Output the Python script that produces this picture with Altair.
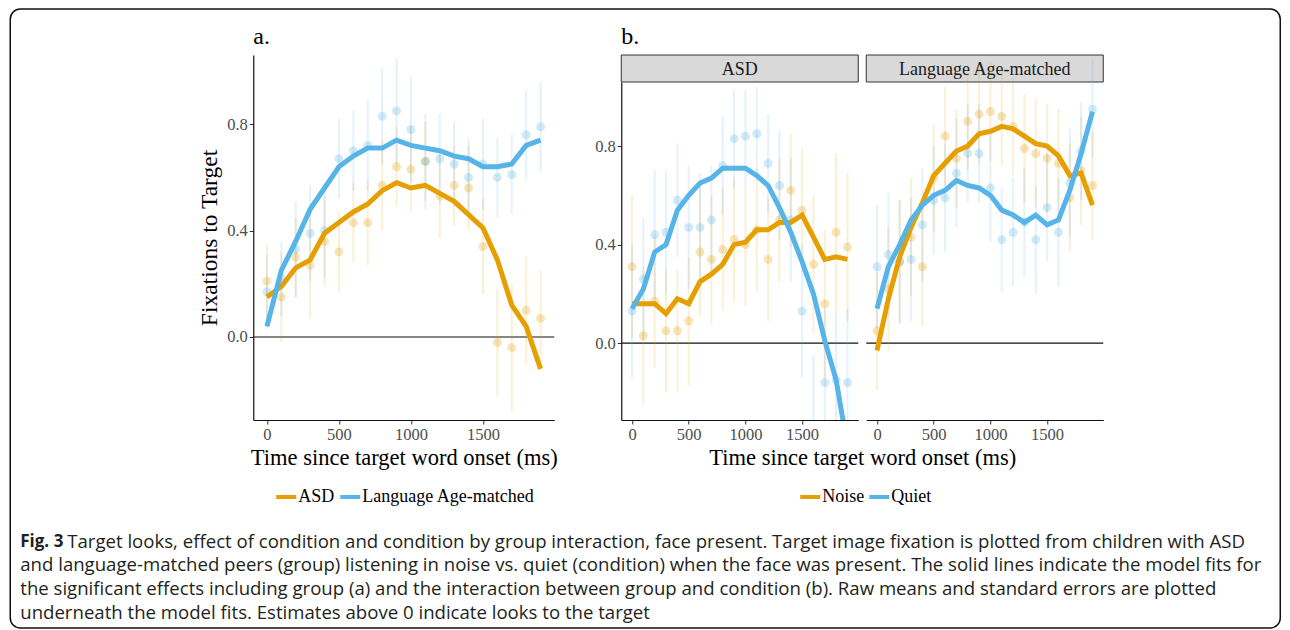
import altair as alt
import pandas as pd

SERIF = "Liberation Serif"
SANS = "Open Sans"
ORANGE = "#E69F00"
BLUE = "#56B4E9"

# ---------------- data ----------------
times = [0, 100, 200, 300, 400, 500, 600, 700, 800, 900,
         1000, 1100, 1200, 1300, 1400, 1500, 1600, 1700, 1800, 1900]

# panel a: group effect
a_groups = ["ASD", "Language Age-matched"]
a_asd_mean = [0.21, 0.15, 0.30, 0.27, 0.36, 0.32, 0.43, 0.43, 0.57, 0.64,
              0.63, 0.66, 0.53, 0.57, 0.56, 0.34, -0.02, -0.04, 0.10, 0.07]
a_asd_se = [0.14, 0.17, 0.15, 0.20, 0.17, 0.15, 0.15, 0.16, 0.17, 0.15,
            0.16, 0.15, 0.16, 0.15, 0.16, 0.18, 0.20, 0.24, 0.20, 0.18]
a_asd_fit = [0.15, 0.19, 0.26, 0.29, 0.39, 0.43, 0.47, 0.50, 0.55, 0.58,
             0.56, 0.57, 0.54, 0.51, 0.46, 0.41, 0.29, 0.12, 0.04, -0.12]
a_lam_mean = [0.17, 0.22, 0.33, 0.39, 0.40, 0.67, 0.70, 0.72, 0.83, 0.85,
              0.78, 0.66, 0.67, 0.65, 0.60, 0.65, 0.60, 0.61, 0.76, 0.79]
a_lam_se = [0.14, 0.14, 0.18, 0.18, 0.18, 0.15, 0.15, 0.17, 0.18, 0.20,
            0.20, 0.18, 0.17, 0.16, 0.15, 0.17, 0.15, 0.15, 0.17, 0.17]
a_lam_fit = [0.04, 0.25, 0.36, 0.48, 0.56, 0.64, 0.68, 0.71, 0.71, 0.74,
             0.72, 0.71, 0.70, 0.68, 0.67, 0.64, 0.64, 0.65, 0.72, 0.74]

# panel b: condition by group
b_conditions = ["Noise", "Quiet"]
b_asd_noise_mean = [0.31, 0.03, 0.17, 0.05, 0.05, 0.09, 0.37, 0.34, 0.38, 0.42,
                    0.40, 0.46, 0.34, 0.50, 0.62, 0.54, 0.32, 0.16, 0.45, 0.39]
b_asd_noise_se = [0.29, 0.28, 0.27, 0.25, 0.25, 0.26, 0.26, 0.26, 0.25, 0.25,
                  0.25, 0.25, 0.25, 0.25, 0.23, 0.25, 0.28, 0.30, 0.32, 0.30]
b_asd_noise_fit = [0.16, 0.16, 0.16, 0.12, 0.18, 0.16, 0.25, 0.28, 0.32, 0.40,
                   0.41, 0.46, 0.46, 0.49, 0.49, 0.52, 0.43, 0.34, 0.35, 0.34]
b_asd_quiet_mean = [0.13, 0.26, 0.44, 0.45, 0.58, 0.47, 0.47, 0.50, 0.72, 0.83,
                    0.84, 0.85, 0.73, 0.64, 0.50, 0.13, -0.35, -0.16, -0.15, -0.16]
b_asd_quiet_se = [0.27, 0.25, 0.26, 0.25, 0.23, 0.25, 0.22, 0.22, 0.20, 0.20,
                  0.19, 0.19, 0.20, 0.22, 0.25, 0.27, 0.30, 0.30, 0.28, 0.30]
b_asd_quiet_fit = [0.14, 0.22, 0.37, 0.40, 0.54, 0.60, 0.65, 0.67, 0.71, 0.71,
                   0.71, 0.68, 0.64, 0.55, 0.45, 0.33, 0.20, 0.01, -0.15, -0.42]

b_lam_noise_mean = [0.05, 0.22, 0.33, 0.43, 0.31, 0.67, 0.84, 0.75, 0.90, 0.93,
                    0.94, 0.92, 0.88, 0.79, 0.77, 0.75, 0.73, 0.59, 0.70, 0.64]
b_lam_noise_se = [0.24, 0.25, 0.25, 0.24, 0.24, 0.22, 0.20, 0.20, 0.20, 0.20,
                  0.20, 0.20, 0.20, 0.22, 0.22, 0.22, 0.22, 0.22, 0.22, 0.22]
b_lam_noise_fit = [-0.03, 0.18, 0.35, 0.47, 0.57, 0.68, 0.73, 0.78, 0.80, 0.85,
                   0.86, 0.88, 0.87, 0.84, 0.81, 0.80, 0.76, 0.68, 0.69, 0.56]
b_lam_quiet_mean = [0.31, 0.36, 0.33, 0.34, 0.48, 0.58, 0.59, 0.69, 0.77, 0.77,
                    0.63, 0.42, 0.45, 0.49, 0.42, 0.55, 0.45, 0.65, 0.78, 0.95]
b_lam_quiet_se = [0.25, 0.25, 0.25, 0.25, 0.23, 0.22, 0.22, 0.22, 0.20, 0.20,
                  0.22, 0.21, 0.22, 0.22, 0.22, 0.22, 0.22, 0.22, 0.20, 0.20]
b_lam_quiet_fit = [0.14, 0.31, 0.40, 0.50, 0.56, 0.60, 0.62, 0.66, 0.64, 0.63,
                   0.60, 0.54, 0.52, 0.49, 0.52, 0.48, 0.50, 0.62, 0.77, 0.94]

x_ticks = [0, 500, 1000, 1500]
y_ticks = [0.0, 0.4, 0.8]

caption_bold = "Fig. 3"
caption_first = ("Target looks, effect of condition and condition by group interaction, "
                 "face present. Target image fixation is plotted from children with ASD")
caption_rest = [
    "and language-matched peers (group) listening in noise vs. quiet (condition) when the face was present. The solid lines indicate the model fits for",
    "the significant effects including group (a) and the interaction between group and condition (b). Raw means and standard errors are plotted",
    "underneath the model fits. Estimates above 0 indicate looks to the target",
]


def build(series_name, names, means, ses, fits):
    rows = []
    for name, m, s, f in zip(names, means, ses, fits):
        for t, mv, sv, fv in zip(times, m, s, f):
            rows.append({"time": t, series_name: name, "mean": mv,
                         "lo": mv - sv, "hi": mv + sv, "fit": fv})
    return pd.DataFrame(rows)


df_a = build("group", a_groups, [a_asd_mean, a_lam_mean],
             [a_asd_se, a_lam_se], [a_asd_fit, a_lam_fit])
df_b_asd = build("condition", b_conditions, [b_asd_noise_mean, b_asd_quiet_mean],
                 [b_asd_noise_se, b_asd_quiet_se], [b_asd_noise_fit, b_asd_quiet_fit])
df_b_lam = build("condition", b_conditions, [b_lam_noise_mean, b_lam_quiet_mean],
                 [b_lam_noise_se, b_lam_quiet_se], [b_lam_noise_fit, b_lam_quiet_fit])

Y_DOMAIN = [-0.312, 1.06]
X_DOMAIN = [-95, 1995]
H = 365
STRIP = 27


def panel(df, field, domain, width, yaxis, xaxis, legend, strip_label=None,
          title=None, extra=None):
    yscale = alt.Scale(domain=Y_DOMAIN, nice=False, zero=False,
                       range=[H, STRIP] if strip_label else [H, 0])
    xscale = alt.Scale(domain=X_DOMAIN, nice=False, zero=False)
    cscale = alt.Scale(domain=domain, range=[ORANGE, BLUE])
    X = alt.X("time:Q", scale=xscale, axis=xaxis)
    C = alt.Color(f"{field}:N", scale=cscale, legend=legend)

    def Y(f):
        return alt.Y(f"{f}:Q", scale=yscale, axis=yaxis)

    base = alt.Chart(df)
    zero = alt.Chart(pd.DataFrame({"mean": [0.0]})).mark_rule(
        color="#111111", strokeWidth=1.1).encode(y=Y("mean"))
    bars = base.mark_rule(strokeWidth=2, opacity=0.17, clip=True).encode(
        x=X, y=Y("lo"), y2="hi:Q", color=C)
    pts = base.mark_circle(size=80, opacity=0.28, clip=True).encode(
        x=X, y=Y("mean"), color=C)
    lines = base.mark_line(strokeWidth=5, clip=True).encode(
        x=X, y=Y("fit"), color=C)
    layers = [zero, bars, pts, lines]
    if strip_label:
        sdf = pd.DataFrame({"label": [strip_label]})
        rect = alt.Chart(sdf).mark_rect(fill="#d9d9d9", stroke="#333333",
                                        strokeWidth=1, clip=False).encode(
            x=alt.value(0), x2=alt.value(width), y=alt.value(0), y2=alt.value(STRIP))
        txt = alt.Chart(sdf).mark_text(font=SERIF, fontSize=18, color="#1a1a1a",
                                       clip=False).encode(
            text="label:N", x=alt.value(width / 2), y=alt.value(STRIP / 2 + 1))
        layers = [rect, txt] + layers
    if extra:
        layers = layers + extra
    ch = alt.layer(*layers).properties(width=width, height=H)
    if title:
        ch = ch.properties(title=alt.Title(title, anchor="start", frame="group",
                                           offset=6, fontSize=24, font=SERIF,
                                           fontWeight="normal", color="black"))
    return ch


def mk_legend(x, y):
    return alt.Legend(orient="none", legendX=x, legendY=y, direction="horizontal",
                      title=None, symbolType="stroke", symbolStrokeWidth=4,
                      symbolSize=400, symbolOpacity=1, labelFont=SERIF,
                      labelFontSize=18, labelColor="black", labelOffset=0,
                      labelLimit=400, columnPadding=-3)


# caption block with frame (drawn relative to the right panel's origin)
OX = 866  # page x of that panel's origin
OY = 55   # page y of that panel's origin
cap_font = dict(font=SANS, align="left", baseline="middle",
                color="#231f20", clip=False)
frame = alt.Chart(pd.DataFrame({"f": [0]})).mark_rect(
    fill="white", fillOpacity=0, stroke="#111111", strokeWidth=1.5,
    cornerRadius=10, clip=False).encode(
    x=alt.value(10 - OX), x2=alt.value(1280 - OX),
    y=alt.value(9 - OY), y2=alt.value(628 - OY))
bold = alt.Chart(pd.DataFrame({"text": [caption_bold]})).mark_text(
    fontWeight="bold", fontSize=17, **cap_font).encode(
    x=alt.value(20 - OX), y=alt.value(541.5 - OY), text="text:N")
t1 = alt.Chart(pd.DataFrame({"text": [caption_first]})).mark_text(
    fontSize=18.6, **cap_font).encode(
    x=alt.value(67 - OX), y=alt.value(541.5 - OY), text="text:N")
t2 = alt.Chart(pd.DataFrame({"text": ["\n".join(caption_rest)]})).mark_text(
    lineBreak="\n", lineHeight=23.7, fontSize=18.6, **cap_font).encode(
    x=alt.value(20 - OX), y=alt.value(565.2 - OY), text="text:N")

yaxis_a = alt.Axis(values=y_ticks, format=".1f", title="Fixations to Target",
                   titlePadding=5, titleFontSize=23.5)
yaxis_b = alt.Axis(values=y_ticks, format=".1f", title=None)
xaxis_a = alt.Axis(values=x_ticks, format="d", title="Time since target word onset (ms)",
                   titlePadding=4)
xaxis_asd = alt.Axis(values=x_ticks, format="d", title="Time since target word onset (ms)",
                     titlePadding=4, titleX=241)
xaxis_lam = alt.Axis(values=x_ticks, format="d", title=None)

panel_a = panel(df_a, "group", a_groups, 301, yaxis_a, xaxis_a,
                mk_legend(21, 430), title="a.")
panel_asd = panel(df_b_asd, "condition", b_conditions, 237, yaxis_b, xaxis_asd,
                  mk_legend(177, 430), strip_label="ASD", title="b.")
panel_lam = panel(df_b_lam, "condition", b_conditions, 237, None, xaxis_lam,
                  None, strip_label="Language Age-matched", extra=[frame, bold, t1, t2])

row_b = alt.hconcat(panel_asd, panel_lam, spacing=8, bounds="flush").resolve_scale(
    color="independent")
chart = alt.hconcat(panel_a, row_b, spacing=67, bounds="flush").resolve_scale(
    color="independent"
).properties(
    padding={"left": 1.25, "top": 0, "right": 0, "bottom": 0},
    background="white",
).configure_view(stroke=None).configure_axis(
    grid=False, domainColor="#111111", domainWidth=1.2, tickColor="#333333",
    tickSize=4, tickWidth=1, labelFont=SERIF, labelFontSize=16.5,
    labelColor="#4d4d4d", labelPadding=2, titleFont=SERIF, titleFontSize=22.5,
    titleFontWeight="normal", titleColor="black"
)

chart.save("out.html", embed_options={"renderer": "svg", "actions": False})
